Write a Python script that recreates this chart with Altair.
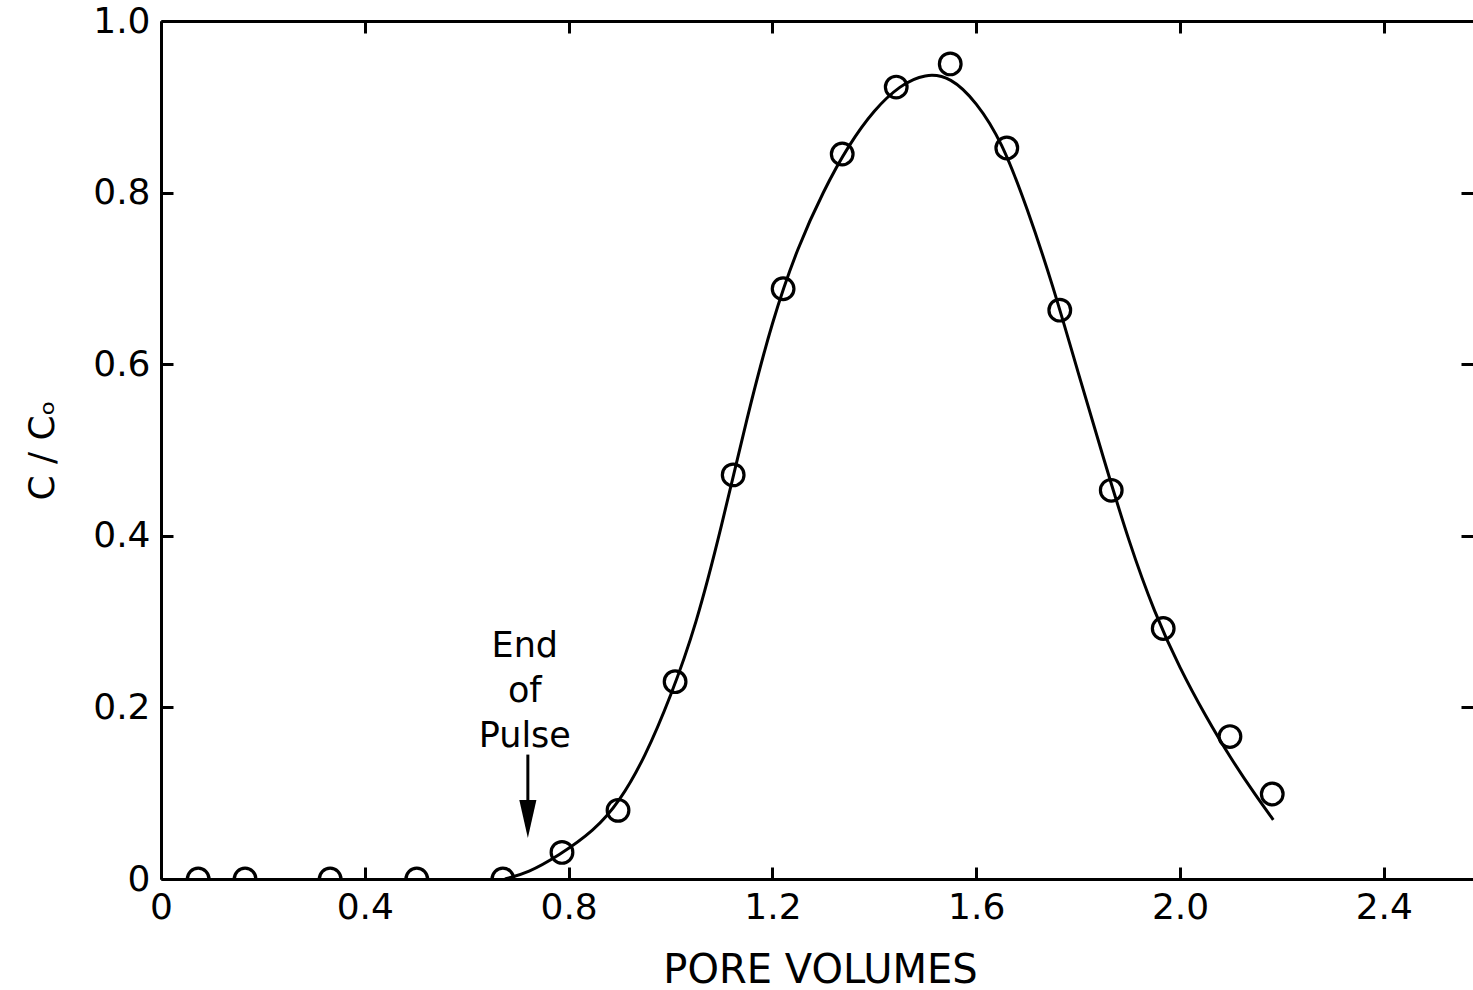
import altair as alt
import pandas as pd

# observed points (pore volumes, C/Co)
obs_x = [0.073, 0.165, 0.332, 0.502, 0.671, 0.787, 0.897, 1.009, 1.123, 1.221,
         1.337, 1.443, 1.549, 1.660, 1.764, 1.865, 1.967, 2.098, 2.181]
obs_y = [0.0, 0.0, 0.0, 0.0, 0.0, 0.031, 0.080, 0.230, 0.471, 0.688,
         0.845, 0.923, 0.950, 0.852, 0.663, 0.453, 0.292, 0.166, 0.099]

# fitted curve
fit_x = [0.675, 0.72, 0.78, 0.85, 0.90, 0.95, 1.00, 1.05, 1.10, 1.15, 1.20, 1.25,
         1.30, 1.35, 1.40, 1.45, 1.50, 1.55, 1.60, 1.65, 1.70, 1.75, 1.80, 1.85,
         1.90, 1.95, 2.00, 2.05, 2.10, 2.15, 2.183]
fit_y = [0.0, 0.007, 0.027, 0.056, 0.090, 0.142, 0.212, 0.295, 0.410, 0.538, 0.652, 0.737,
         0.802, 0.856, 0.897, 0.925, 0.939, 0.935, 0.906, 0.860, 0.782, 0.693, 0.590, 0.490,
         0.392, 0.310, 0.245, 0.190, 0.140, 0.096, 0.069]

x_ticks = [0, 0.4, 0.8, 1.2, 1.6, 2.0, 2.4]
y_ticks = [0, 0.2, 0.4, 0.6, 0.8, 1.0]

note_lines = ["End", "of", "Pulse"]
note_x = [0.714]
note_y = [0.2716]
arrow_x = [0.72]
arrow_top = [0.145]
arrow_base = [0.092]
arrow_head_y = [0.070]

X_DOMAIN = [0, 2.575]
Y_DOMAIN = [0, 1.0]
FONT = "DejaVu Sans"
W, H = 1312, 858

xs = alt.Scale(domain=X_DOMAIN, nice=False, zero=False)
ys = alt.Scale(domain=Y_DOMAIN, nice=False, zero=False)
label_expr = "datum.value == 0 ? '0' : format(datum.value, '.1f')"

common = dict(grid=False, domainColor="black", domainWidth=3, tickColor="black",
              tickWidth=3, labelFont=FONT, labelFontSize=36, labelColor="black",
              labelFlush=False, zindex=1)

def tick_axis(orient, values):
    return alt.Axis(orient=orient, values=values, offset=-12, tickSize=12, ticks=True,
                    domain=False, labels=False, title=None, **common)

obs_df = pd.DataFrame({"x": obs_x, "y": obs_y})
fit_df = pd.DataFrame({"x": fit_x, "y": fit_y})
note_df = pd.DataFrame({"x": note_x, "y": note_y, "t": [note_lines]})
arrow_df = pd.DataFrame({"x": arrow_x, "y": arrow_top, "y2": arrow_base})
head_df = pd.DataFrame({"x": arrow_x, "y": arrow_head_y})

points = alt.Chart(obs_df).mark_point(
    shape="circle", size=470, filled=True, fill="white", stroke="black",
    strokeWidth=3.2, opacity=1, clip=True
).encode(
    x=alt.X("x:Q", scale=xs, axis=alt.Axis(
        orient="bottom", values=x_ticks, labelExpr=label_expr, ticks=False,
        domain=True, labelPadding=11, title="PORE VOLUMES", titleFont=FONT,
        titleFontSize=40, titleFontWeight="normal", titleColor="black",
        titleX=659, titleY=91, titleAlign="center", titleBaseline="middle", **common)),
    y=alt.Y("y:Q", scale=ys, axis=alt.Axis(
        orient="left", values=y_ticks, labelExpr=label_expr, ticks=False,
        domain=True, labelPadding=11, title="C / Cₒ", titleFont=FONT,
        titleFontSize=36, titleFontWeight="normal", titleColor="black",
        titleAngle=270, titleX=-119, titleY=429, titleAlign="center",
        titleBaseline="middle", **common)),
)

curve = alt.Chart(fit_df).mark_line(
    color="black", strokeWidth=3, interpolate="basis"
).encode(
    x=alt.X("x:Q", scale=xs, axis=tick_axis("bottom", x_ticks)),
    y=alt.Y("y:Q", scale=ys, axis=tick_axis("left", y_ticks)),
    order="x:Q",
)

note = alt.Chart(note_df).mark_text(
    font=FONT, fontSize=35, color="black", align="center", baseline="middle",
    lineHeight=45
).encode(
    x=alt.X("x:Q", scale=xs, axis=alt.Axis(orient="top", domain=True, ticks=False,
                                           labels=False, title=None, values=x_ticks, **common)),
    y=alt.Y("y:Q", scale=ys, axis=tick_axis("right", y_ticks)),
    text="t",
)

shaft = alt.Chart(arrow_df).mark_rule(color="black", strokeWidth=3).encode(
    x=alt.X("x:Q", scale=xs, axis=tick_axis("top", x_ticks)),
    y=alt.Y("y:Q", scale=ys, axis=None),
    y2="y2:Q",
)

head = alt.Chart(head_df).mark_point(
    shape="M-0.45,-1L0.45,-1L0,1Z", size=1444, filled=True, color="black", opacity=1
).encode(
    x=alt.X("x:Q", scale=xs, axis=None),
    y=alt.Y("y:Q", scale=ys, axis=None),
)

chart = alt.layer(points, curve, note, shaft, head).resolve_axis(
    x="independent", y="independent"
).properties(
    width=W, height=H,
    autosize=alt.AutoSizeParams(type="none"),
    padding={"left": 161, "top": 21, "right": 0, "bottom": 111},
    background="white",
).configure_view(stroke=None)

chart.save("out.html", embed_options={"renderer": "svg", "actions": False})
